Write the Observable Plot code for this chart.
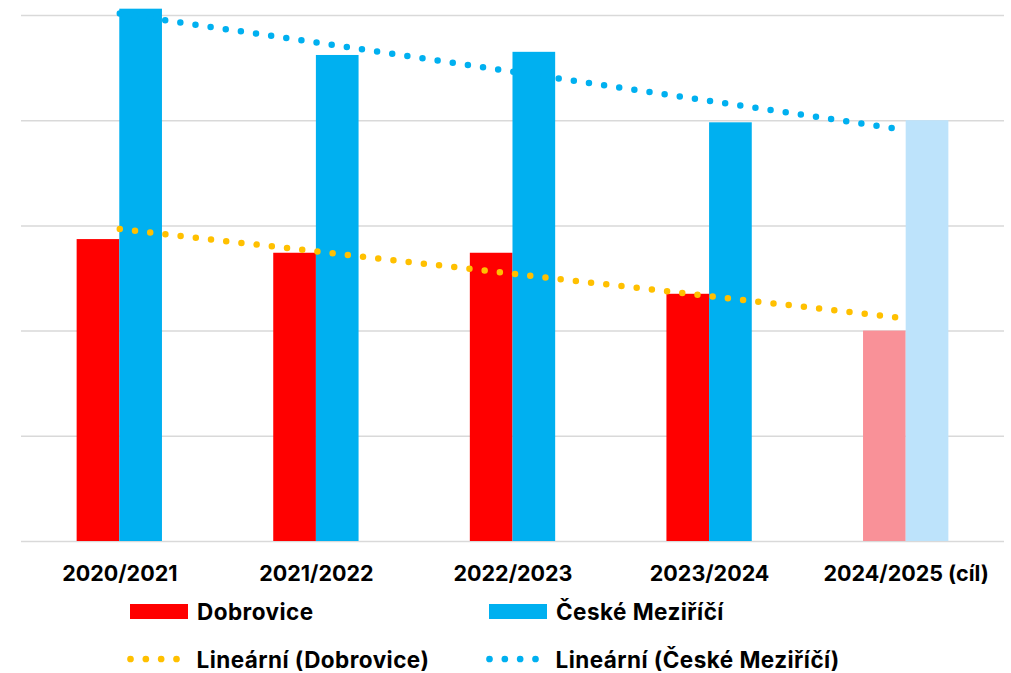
<!DOCTYPE html>
<html>
<head>
<meta charset="utf-8">
<script src="https://cdn.jsdelivr.net/npm/d3@7"></script>
<script src="https://cdn.jsdelivr.net/npm/@observablehq/plot@0.6"></script>
<style>
  body { margin: 0; background: #fff; font-family: Inter, "Open Sans", sans-serif; }
  #chart svg { display: block; }
  #legend { position: relative; height: 87px; font-weight: 700; font-size: 22.5px; letter-spacing: 0.45px; color: #000; }
  .item { position: absolute; display: flex; align-items: center; height: 30px; }
  .item .label { white-space: nowrap; }
</style>
</head>
<body>
<div id="chart"></div>
<div id="legend"></div>
<script>
// ---- data ----
const years = ["2020/2021", "2021/2022", "2022/2023", "2023/2024", "2024/2025 (cíl)"];
const targetYear = "2024/2025 (cíl)";
const dobrovice = [2.87, 2.74, 2.74, 2.35, 2.0];
const meziricí = [5.06, 4.62, 4.65, 3.98, 4.0];
const trendYears = ["2020/2021", "2024/2025 (cíl)"];
const trendDobrovice = [2.97, 2.12];
const trendMezirici = [5.02, 3.91];
const yTicks = [0, 1, 2, 3, 4, 5];
const seriesNames = ["Dobrovice", "České Meziříčí"];
const trendNames = ["Lineární (Dobrovice)", "Lineární (České Meziříčí)"];

// ---- styles ----
const RED = "#FF0000", RED_LIGHT = "#F99198";
const BLUE = "#00B0F0", BLUE_LIGHT = "#BDE3FB";
const ORANGE = "#FFC000";
const HALF = 42.65;

const dData = years.map((y, i) => ({year: y, v: dobrovice[i]}));
const mData = years.map((y, i) => ({year: y, v: meziricí[i]}));
const tdData = trendYears.map((y, i) => ({year: y, v: trendDobrovice[i]}));
const tmData = trendYears.map((y, i) => ({year: y, v: trendMezirici[i]}));

const chart = Plot.plot({
  width: 1011,
  height: 586,
  marginLeft: 21,
  marginRight: 7,
  marginTop: 15,
  marginBottom: 45,
  style: {fontFamily: "Inter, 'Open Sans', sans-serif", fontWeight: "700", fontSize: "21.5px", color: "#000", background: "#fff", overflow: "visible"},
  x: {domain: years, paddingInner: 0.566, paddingOuter: 0.283, round: false, tickSize: 0, tickPadding: 24, label: null},
  y: {domain: [0, 5], axis: null},
  color: {type: "identity"},
  marks: [
    Plot.ruleY(yTicks, {stroke: "#D9D9D9", strokeWidth: 1.5}),
    Plot.barY(dData, {x: "year", y: "v", fill: d => d.year === targetYear ? RED_LIGHT : RED, insetRight: HALF}),
    Plot.barY(mData, {x: "year", y: "v", fill: d => d.year === targetYear ? BLUE_LIGHT : BLUE, insetLeft: HALF}),
    Plot.line(tmData, {x: "year", y: "v", stroke: BLUE, strokeWidth: 6.5, strokeDasharray: "0 15.3", strokeLinecap: "round"}),
    Plot.line(tdData, {x: "year", y: "v", stroke: ORANGE, strokeWidth: 6.5, strokeDasharray: "0 15.3", strokeLinecap: "round"})
  ]
});
document.getElementById("chart").appendChild(chart);

// ---- legend ----
const legend = document.getElementById("legend");
function rectSwatch(color) {
  return `<span style="display:inline-block;width:58px;height:15px;background:${color};margin-right:9px"></span>`;
}
function dotSwatch(color) {
  return `<svg width="56" height="12" style="margin-right:14px;display:block"><line x1="3.5" x2="49.5" y1="6" y2="6" stroke="${color}" stroke-width="6.7" stroke-linecap="round" stroke-dasharray="0 15.33"/></svg>`;
}
const items = [
  {left: 130, top: 10, html: rectSwatch(RED), text: seriesNames[0]},
  {left: 489, top: 10, html: rectSwatch(BLUE), text: seriesNames[1]},
  {left: 126.5, top: 58, html: dotSwatch(ORANGE), text: trendNames[0]},
  {left: 485.5, top: 58, html: dotSwatch(BLUE), text: trendNames[1]}
];
for (const it of items) {
  const div = document.createElement("div");
  div.className = "item";
  div.style.left = it.left + "px";
  div.style.top = it.top + "px";
  div.innerHTML = it.html + `<span class="label">${it.text}</span>`;
  legend.appendChild(div);
}
</script>
</body>
</html>
